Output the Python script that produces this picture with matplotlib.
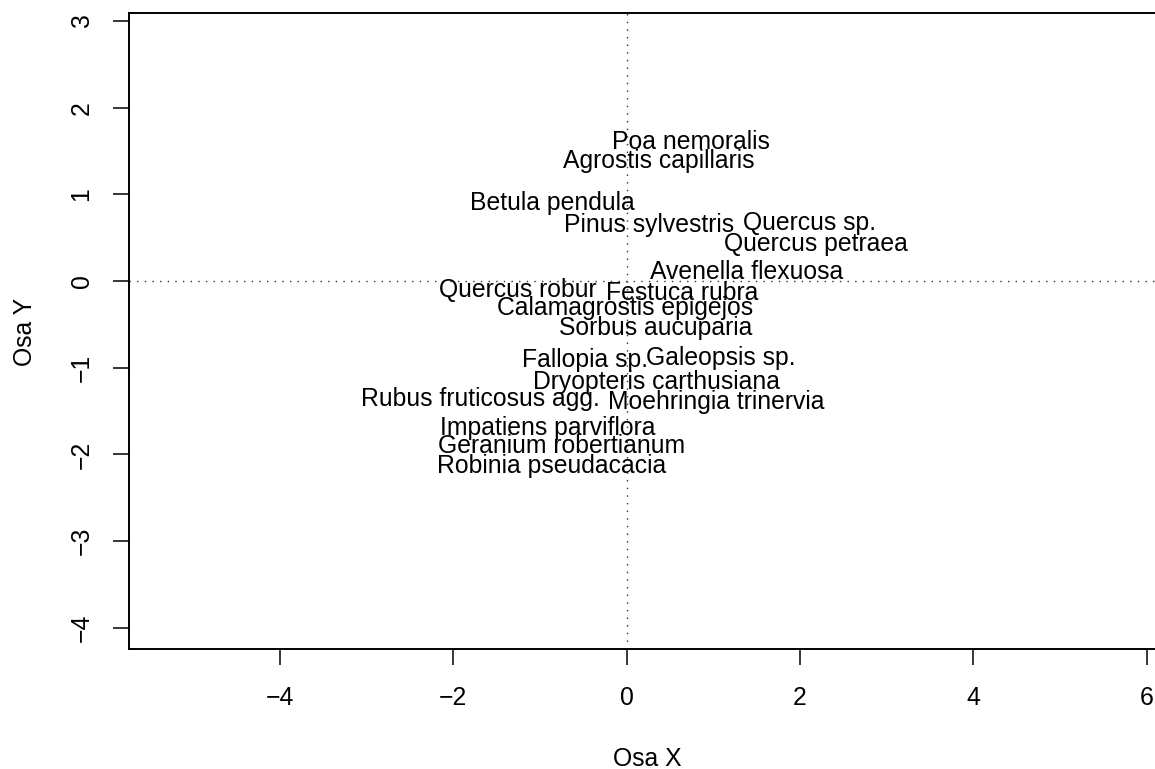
import matplotlib
matplotlib.use("Agg")
import matplotlib.pyplot as plt

plt.rcParams['font.family'] = ['Liberation Sans', 'DejaVu Sans']

# species labels and their (x, y) ordination scores
species = [
    "Poa nemoralis", "Agrostis capillaris", "Betula pendula",
    "Pinus sylvestris", "Quercus sp.", "Quercus petraea",
    "Avenella flexuosa", "Quercus robur", "Festuca rubra",
    "Calamagrostis epigejos", "Sorbus aucuparia", "Fallopia sp.",
    "Galeopsis sp.", "Dryopteris carthusiana", "Rubus fruticosus agg.",
    "Moehringia trinervia", "Impatiens parviflora", "Geranium robertianum",
    "Robinia pseudacacia",
]
x_scores = [0.74, 0.375, -0.854, 0.26, 2.11, 2.18, 1.38, -1.25, 0.64,
            -0.02, 0.34, -0.48, 1.09, 0.34, -1.686, 1.035, -0.908, -0.753,
            -0.86]
y_scores = [1.63, 1.415, 0.934, 0.68, 0.70, 0.453, 0.138, -0.07, -0.104,
            -0.277, -0.517, -0.88, -0.854, -1.136, -1.334, -1.367, -1.67,
            -1.873, -2.11]

x_ticks = [-4, -2, 0, 2, 4, 6]
y_ticks = [-4, -3, -2, -1, 0, 1, 2, 3]

W, H = 1155, 769
fig = plt.figure(figsize=(W / 100, H / 100), dpi=100)

# plot region in pixels (right edge runs just past the image)
left_px, right_px, top_px, bottom_px = 129, 1165, 13.3, 649
ax = fig.add_axes([left_px / W, 1 - bottom_px / H,
                   (right_px - left_px) / W, (bottom_px - top_px) / H])
ax.set_xlim(-5.74, 6.21)
ax.set_ylim(-4.245, 3.09)

fs = 17.8
ax.axhline(0, color="0.2", lw=1.0, linestyle=(0, (1, 4.5)))
ax.axvline(0, color="0.2", lw=1.0, linestyle=(0, (1, 4.5)))

for name, xv, yv in zip(species, x_scores, y_scores):
    ax.text(xv, yv, name, ha="center", va="center_baseline",
            fontsize=fs, color="black")

ax.set_xticks(x_ticks)
ax.set_yticks(y_ticks)
ax.set_xticklabels([str(t).replace("-", "\u2212") for t in x_ticks])
ax.set_yticklabels([str(t).replace("-", "\u2212") for t in y_ticks],
                   rotation=90, va="center")
ax.tick_params(axis="both", direction="out", length=11.5, width=1.1,
               labelsize=fs, color="black")
ax.tick_params(axis="x", pad=15)
ax.tick_params(axis="y", pad=14)
for s in ax.spines.values():
    s.set_linewidth(1.4)

fig.text(647 / W, 1 - 756.7 / H, "Osa X", ha="center",
         va="center_baseline", fontsize=fs)
fig.text(22 / W, 1 - 331.7 / H, "Osa Y", ha="center",
         va="center_baseline", rotation=90, rotation_mode="anchor",
         fontsize=fs)

fig.savefig("out.png", dpi=100)
